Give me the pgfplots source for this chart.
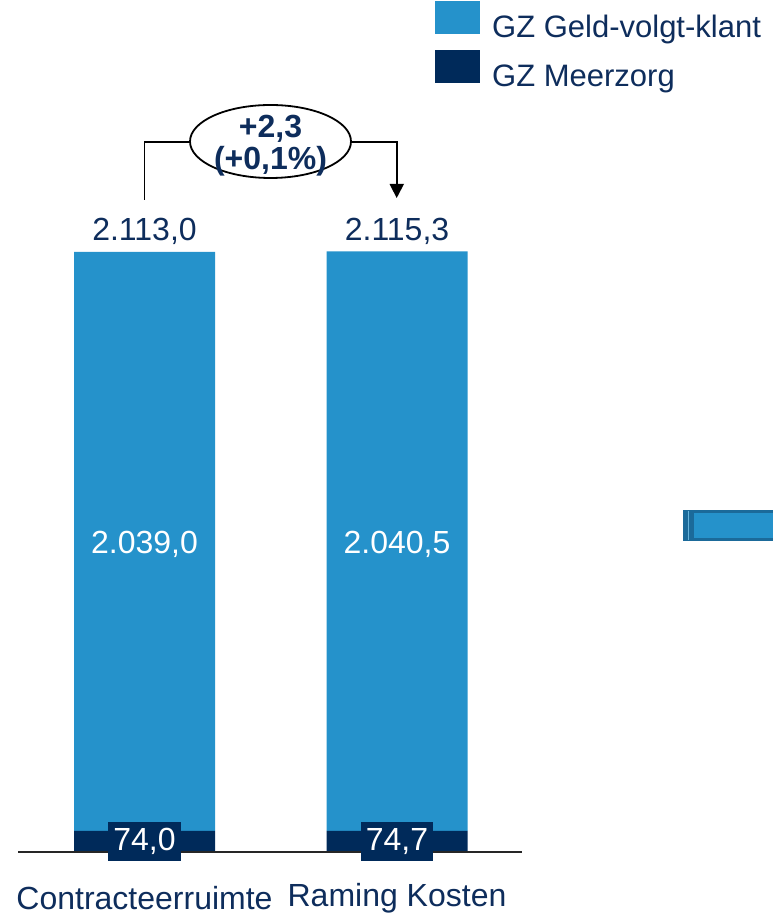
\documentclass[border=0pt]{standalone}
\usepackage{pgfplots}
\pgfplotsset{compat=1.18}
\usepackage{fontspec}
\setmainfont{Liberation Sans}
\definecolor{gzlight}{HTML}{2592CB}
\definecolor{gzdark}{HTML}{002A5A}
\definecolor{txt}{HTML}{0E2D5C}
\definecolor{edge}{HTML}{1B6A9A}
\newcommand{\lbl}{\fontsize{32}{36}\selectfont}

\begin{document}
\begin{tikzpicture}[x=1pt,y=1pt]
\begin{axis}[
  at={(0,0)}, anchor=south west,
  width=773pt, height=916pt, scale only axis,
  xmin=-0.5723, xmax=2.4891,
  ymin=-225.4, ymax=3000.5,
  axis x line=middle, axis y line=none,
  x axis line style={draw=none},
  xtick={0,1}, xticklabels={Contracteerruimte, Raming Kosten},
  major tick length=0pt, ytick=\empty,
  xticklabel style={anchor=center, yshift=-46pt, font=\lbl, text=txt},
  ybar stacked, bar width=141pt,
  clip=false,
  reverse legend,
  legend style={at={(435/773,1-1/916)}, anchor=north west, draw=none, fill=none,
    inner sep=0pt, row sep=6pt, font=\fontsize{31}{36}\selectfont, text=txt,
    nodes={text height=23pt, text depth=7pt, inner sep=0pt, anchor=west},
    /tikz/every odd column/.append style={column sep=12pt}},
  legend image code/.code={\fill[#1, draw=none] (0pt,-5pt) rectangle (45pt,28pt);},
]
% baseline
\draw[black!85, line width=1.5pt] (axis cs:-0.501,0) -- (axis cs:1.495,0);

\addplot[fill=gzdark, draw=none] coordinates {(0,74.0) (1,74.7)};
\addlegendentry{GZ Meerzorg}
\addplot[fill=gzlight, draw=none] coordinates {(0,2039.0) (1,2040.5)};
\addlegendentry{GZ Geld-volgt-klant}

\coordinate (m0) at (axis cs:0,37);
\coordinate (m1) at (axis cs:1,37.35);
\coordinate (g0) at (axis cs:0,1083);
\coordinate (g1) at (axis cs:1,1084);
\coordinate (t0) at (axis cs:0,2187);
\coordinate (t1) at (axis cs:1,2187);
\end{axis}

% segment labels
\node[fill=gzdark, text=white, font=\lbl, text height=23pt, text depth=4.5pt,
  inner xsep=5pt, inner ysep=5.5pt] at (m0) {74,0};
\node[fill=gzdark, text=white, font=\lbl, text height=23pt, text depth=4.5pt,
  inner xsep=5pt, inner ysep=5.5pt] at (m1) {74,7};
\node[text=white, font=\lbl] at (g0) {2.039,0};
\node[text=white, font=\lbl] at (g1) {2.040,5};
% totals
\node[text=txt, font=\lbl] at (t0) {2.113,0};
\node[text=txt, font=\lbl] at (t1) {2.115,3};

% difference annotation
\draw[line width=1.8pt] (144.5,916-200) -- (144.5,916-142) -- (190,916-142);
\draw[line width=1.8pt] (270.5,916-141.5) ellipse (80.5 and 36.5);
\draw[line width=1.8pt] (351,916-142) -- (396.7,916-142) -- (396.7,916-185);
\fill (389.5,916-184) -- (404,916-184) -- (396.7,916-198) -- cycle;
\node[font=\bfseries\fontsize{32}{32}\selectfont, text=txt, align=center]
  at (270.5,916-146) {+2,3\\(+0,1\%)};

% clipped element at the right edge
\fill[edge] (683,916-510) rectangle (773,916-541);
\fill[gzlight] (694,916-513) rectangle (773,916-538);
\draw[gzlight!70, line width=1pt] (688.5,916-511) -- (688.5,916-540);

\pgfresetboundingbox
\useasboundingbox (0,0) rectangle (773,916);
\end{tikzpicture}
\end{document}
